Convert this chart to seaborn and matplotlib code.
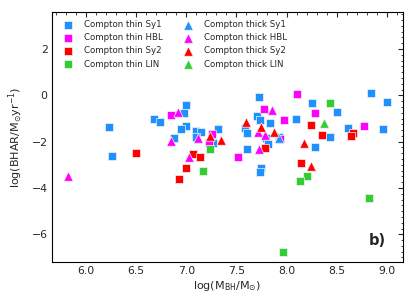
import numpy as np
import pandas as pd
import matplotlib
matplotlib.use("Agg")
import matplotlib.pyplot as plt
import seaborn as sns
from matplotlib.ticker import MultipleLocator

# ---- data ----
thin_sy1_x = [6.23, 6.26, 6.68, 6.74, 7.00, 6.98, 7.00, 6.95, 6.88, 7.10, 7.15, 7.10, 7.32, 7.27,
              7.72, 7.70, 7.73, 7.83, 7.59, 7.61, 7.79, 7.92, 7.81, 7.61, 8.09, 8.84, 9.00, 8.25,
              8.50, 8.61, 8.96, 8.43, 8.28, 7.74, 7.73]
thin_sy1_y = [-1.36, -2.60, -1.01, -1.17, -0.42, -0.74, -1.31, -1.47, -1.83, -1.54, -1.60, -1.79, -1.45, -2.04,
              -0.08, -0.90, -1.07, -1.21, -1.42, -1.64, -1.85, -1.81, -2.11, -2.31, -1.03, 0.12, -0.28, -0.35,
              -0.73, -1.40, -1.45, -1.79, -2.24, -3.14, -3.30]
thin_hbl_x = [6.85, 7.26, 7.23, 7.77, 7.97, 7.93, 7.52, 8.10, 8.28, 8.77]
thin_hbl_y = [-0.85, -1.68, -2.07, -0.60, -1.07, -1.90, -2.67, 0.05, -0.74, -1.33]
thin_sy2_x = [6.50, 7.07, 7.14, 7.00, 6.93, 7.78, 8.24, 8.35, 8.66, 8.64, 8.14]
thin_sy2_y = [-2.47, -2.54, -2.64, -3.12, -3.61, -2.28, -1.28, -1.73, -1.61, -1.76, -2.93]
thin_lin_x = [7.24, 7.17, 8.43, 8.20, 8.13, 8.82, 7.96]
thin_lin_y = [-2.31, -3.27, -0.31, -3.47, -3.70, -4.43, -6.78]
thick_sy1_x = [7.92]
thick_sy1_y = [-1.85]
thick_hbl_x = [5.82, 6.92, 6.85, 7.12, 7.03, 7.85, 7.71, 7.78, 7.72]
thick_hbl_y = [-3.50, -0.71, -1.97, -1.85, -2.64, -0.61, -1.60, -1.71, -2.33]
thick_sy2_x = [7.24, 7.35, 7.60, 7.74, 7.87, 8.17, 8.24]
thick_sy2_y = [-1.77, -1.93, -1.14, -1.36, -1.57, -2.07, -3.07]
thick_lin_x = [8.37]
thick_lin_y = [-1.21]

groups = [
    ("Compton thin Sy1", thin_sy1_x, thin_sy1_y, "#1E90FF", "s"),
    ("Compton thin HBL", thin_hbl_x, thin_hbl_y, "#FF00FF", "s"),
    ("Compton thin Sy2", thin_sy2_x, thin_sy2_y, "#FF0000", "s"),
    ("Compton thin LIN", thin_lin_x, thin_lin_y, "#32CD32", "s"),
    ("Compton thick Sy1", thick_sy1_x, thick_sy1_y, "#1E90FF", "^"),
    ("Compton thick HBL", thick_hbl_x, thick_hbl_y, "#FF00FF", "^"),
    ("Compton thick Sy2", thick_sy2_x, thick_sy2_y, "#FF0000", "^"),
    ("Compton thick LIN", thick_lin_x, thick_lin_y, "#32CD32", "^"),
]

sns.set_style("white")
plt.rcParams['font.family'] = ['DejaVu Sans']

fig, ax = plt.subplots(figsize=(4.15, 3.08), dpi=100)
fig.subplots_adjust(left=0.125, right=0.971, top=0.961, bottom=0.149)

for label, xs, ys, col, mk in groups:
    df = pd.DataFrame({"x": xs, "y": ys})
    sns.scatterplot(data=df, x="x", y="y", color=col, marker=mk,
                    s=36 if mk == "s" else 46, edgecolor="#f4f4f4", linewidth=0.5,
                    label=label, ax=ax, zorder=3 if mk == "^" else 2)

ax.set_xlim(5.66, 9.16)
ax.set_ylim(-7.2, 3.6)
ax.xaxis.set_major_locator(MultipleLocator(0.5))
ax.xaxis.set_minor_locator(MultipleLocator(0.1))
ax.yaxis.set_major_locator(MultipleLocator(2))
ax.yaxis.set_minor_locator(MultipleLocator(0.25))
ax.tick_params(which="both", direction="in", top=True, right=True, labelsize=7.8, pad=3)
ax.tick_params(which="major", length=3.6, width=0.8)
ax.tick_params(which="minor", length=1.8, width=0.6)
for sp in ax.spines.values():
    sp.set_color("black")
    sp.set_linewidth(0.8)

ax.set_xlabel(r"log(M$_{\rm BH}$/M$_{\odot}$)", fontsize=8, labelpad=2)
ax.set_ylabel(r"log(BHAR/M$_{\odot}$yr$^{-1}$)", fontsize=8, labelpad=5)

ax.text(8.90, -6.26, "b)", fontsize=10.5, fontweight="bold", ha="center", va="center")

ax.legend(loc="upper left", ncol=2, frameon=False, fontsize=6.2,
          markerscale=1.0, columnspacing=2.0)

fig.savefig("out.png", dpi=100)
